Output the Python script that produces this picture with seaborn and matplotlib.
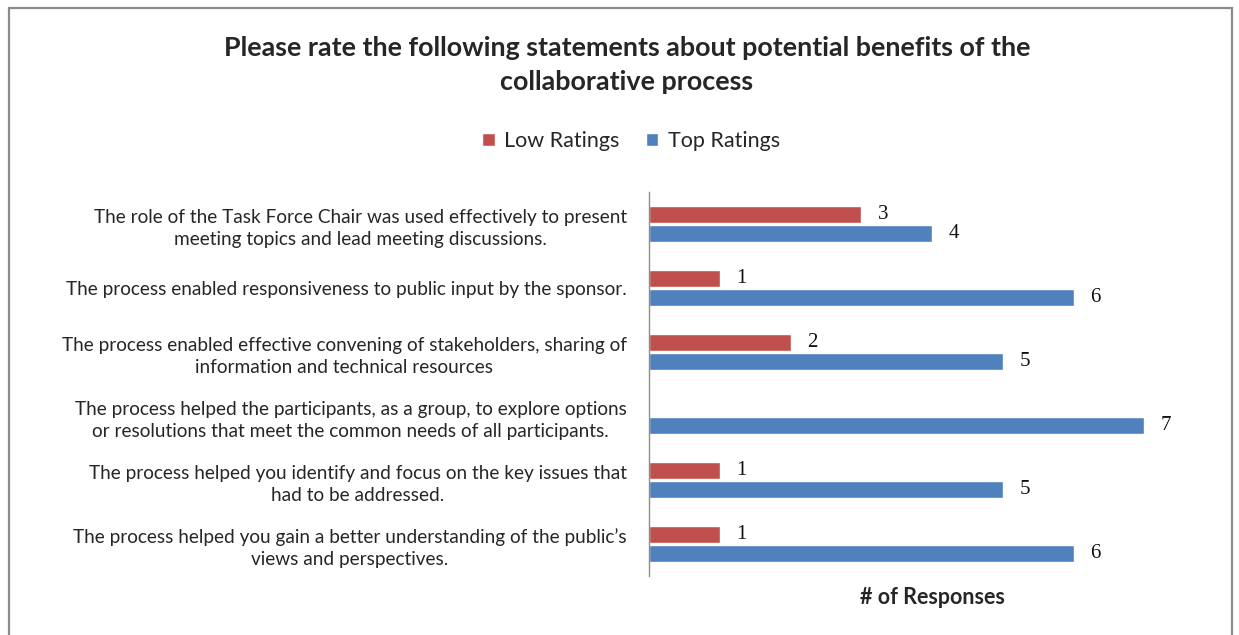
import matplotlib
matplotlib.use("Agg")
import matplotlib.pyplot as plt
from matplotlib.patches import Rectangle
import seaborn as sns
import pandas as pd

statements = [
    "The role of the Task Force Chair was used effectively to present\nmeeting topics and lead meeting discussions.",
    "The process enabled responsiveness to public input by the sponsor.",
    "The process enabled effective convening of stakeholders, sharing of\ninformation and technical resources",
    "The process helped the participants, as a group, to explore options\nor resolutions that meet the common needs of all participants.",
    "The process helped you identify and focus on the key issues that\nhad to be addressed.",
    "The process helped you gain a better understanding of the public\u2019s\nviews and perspectives.",
]
low_ratings = [3, 1, 2, 0, 1, 1]
top_ratings = [4, 6, 5, 7, 5, 6]
series_names = ["Low Ratings", "Top Ratings"]
series_colors = ["#C0504D", "#4F81BD"]

df = pd.DataFrame({
    "statement": statements * 2,
    "series": [series_names[0]] * len(statements) + [series_names[1]] * len(statements),
    "count": low_ratings + top_ratings,
})

sns.set_theme(style="white")
plt.rcParams["font.family"] = ["Lato", "DejaVu Sans"]

fig = plt.figure(figsize=(12.39, 6.35), dpi=100)
ax = fig.add_axes([649 / 1239, 1 - 576 / 635, (1215 - 649) / 1239, (576 - 192) / 635])

sns.barplot(
    data=df, y="statement", x="count", hue="series", order=statements,
    hue_order=series_names, palette=series_colors, orient="h",
    width=0.6, gap=0.08, saturation=1, ax=ax, legend=True,
)

ax.set_xlim(0, 8)
ax.set_xticks([])
ax.set_ylabel("")
ax.set_xlabel("# of Responses", fontsize=15.5, fontweight="bold", labelpad=8)
for side in ["top", "right", "bottom"]:
    ax.spines[side].set_visible(False)
ax.spines["left"].set_color("#8C8C8C")
ax.spines["left"].set_linewidth(1.0)
ax.tick_params(axis="y", length=0, pad=16, labelsize=13.7)
for lbl in ax.get_yticklabels():
    lbl.set_multialignment("center")
    lbl.set_linespacing(1.38)

for container in ax.containers:
    labels = [f"{v:g}" if v > 0 else "" for v in container.datavalues]
    ax.bar_label(container, labels=labels, padding=12, fontsize=15,
                 family="Liberation Serif", color="#111111")

handles, lbls = ax.get_legend_handles_labels()
ax.legend_.remove()
fig.legend(handles, lbls, loc="center", bbox_to_anchor=(631 / 1239, 1 - 141 / 635),
           ncol=2, frameon=False, fontsize=15.5, handlelength=0.6, handleheight=0.6,
           handletextpad=0.45, columnspacing=1.2)

fig.text(627 / 1239, 1 - 65 / 635,
         "Please rate the following statements about potential benefits of the\ncollaborative process",
         ha="center", va="center", fontsize=19.4, fontweight="bold", linespacing=1.55)

fig.patches.append(Rectangle((9 / 1239, -0.05), (1232 - 9) / 1239, 1 - 8 / 635 + 0.05,
                             transform=fig.transFigure, fill=False,
                             edgecolor="#8A8A8A", linewidth=1.6))

fig.savefig("out.png", dpi=100, facecolor="white")
